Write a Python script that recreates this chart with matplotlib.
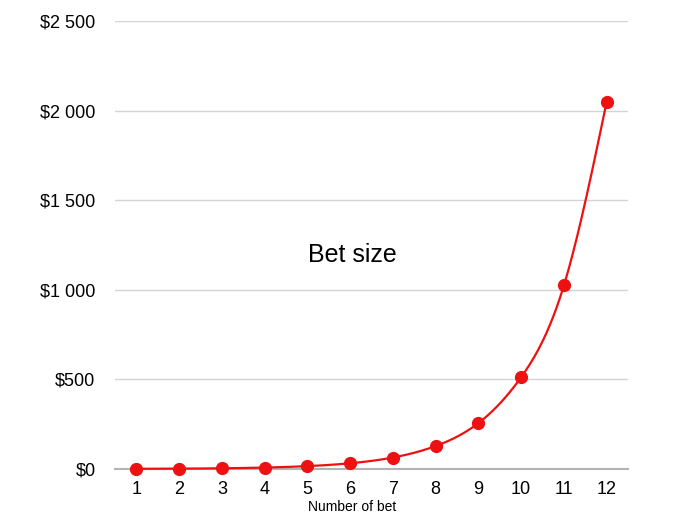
import numpy as np
import matplotlib
matplotlib.use("Agg")
import matplotlib.pyplot as plt
from matplotlib.ticker import FuncFormatter

bets = [1, 2, 3, 4, 5, 6, 7, 8, 9, 10, 11, 12]
bet_size = [1, 2, 4, 8, 16, 32, 64, 128, 256, 512, 1024, 2048]
y_ticks = [0, 500, 1000, 1500, 2000, 2500]
title = "Bet size"
x_label = "Number of bet"


def natural_spline(x, y, n=40):
    x = np.asarray(x, float)
    y = np.asarray(y, float)
    k = len(x)
    h = np.diff(x)
    A = np.zeros((k, k))
    b = np.zeros(k)
    A[0, 0] = A[-1, -1] = 1
    for i in range(1, k - 1):
        A[i, i - 1] = h[i - 1]
        A[i, i] = 2 * (h[i - 1] + h[i])
        A[i, i + 1] = h[i]
        b[i] = 3 * ((y[i + 1] - y[i]) / h[i] - (y[i] - y[i - 1]) / h[i - 1])
    c = np.linalg.solve(A, b)
    xs, ys = [], []
    for i in range(k - 1):
        bb = (y[i + 1] - y[i]) / h[i] - h[i] * (2 * c[i] + c[i + 1]) / 3
        d = (c[i + 1] - c[i]) / (3 * h[i])
        t = np.linspace(0, h[i], n, endpoint=(i == k - 2))
        xs.append(x[i] + t)
        ys.append(y[i] + bb * t + c[i] * t ** 2 + d * t ** 3)
    return np.concatenate(xs), np.concatenate(ys)


plt.rcParams['font.family'] = ['Liberation Sans', 'DejaVu Sans']

fig = plt.figure(figsize=(6.89, 5.15), dpi=100)
ax = fig.add_axes([115 / 689, 1 - 469 / 515, 513 / 689, 448 / 515])

sx, sy = natural_spline(bets, bet_size)
ax.plot(sx, sy, color='#ee1111', lw=1.6, zorder=3, clip_on=False)
ax.plot(bets, bet_size, 'o', color='#ee1111', markersize=8.5, zorder=4, clip_on=False)

ax.set_xlim(0.5, 12.5)
ax.set_ylim(0, 2500)
ax.set_xticks(bets)
ax.set_yticks(y_ticks)


def fmt(v, pos):
    v = int(round(v))
    s = f"{v:,}".replace(",", " ")
    return "$" + s


ax.yaxis.set_major_formatter(FuncFormatter(fmt))
ax.tick_params(axis='both', length=0, labelsize=13, colors='black')
ax.tick_params(axis='y', pad=14)
ax.tick_params(axis='x', pad=9)

ax.grid(axis='y', color='#d4d4d4', lw=1)
ax.set_axisbelow(True)
for s in ['top', 'right', 'left']:
    ax.spines[s].set_visible(False)
ax.spines['bottom'].set_color('#b3b3b3')
ax.spines['bottom'].set_linewidth(1.5)

ax.text(0.462, 0.478, title, transform=ax.transAxes, fontsize=18,
        ha='center', va='center')
fig.text(352 / 689, 1 - 507 / 515, x_label, fontsize=10, ha='center', va='center')

fig.savefig('out.png', dpi=100)
